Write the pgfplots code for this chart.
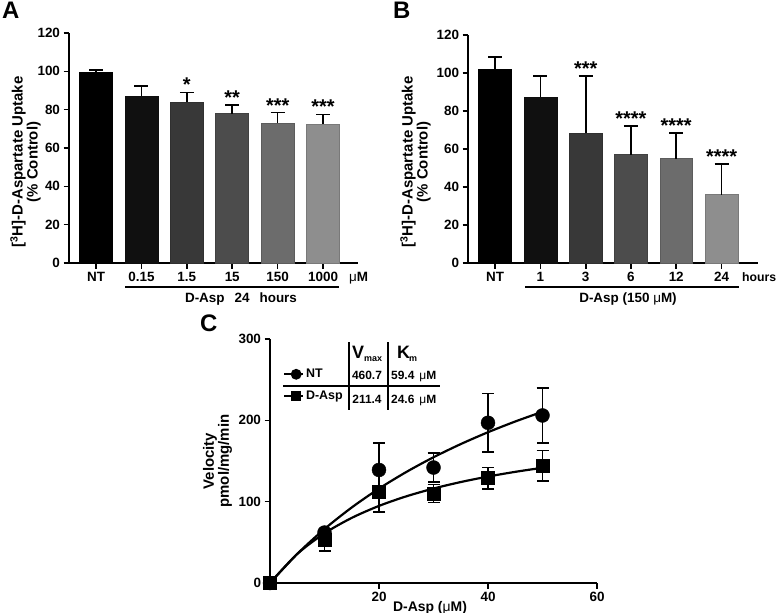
\documentclass[border=0pt]{standalone}
\usepackage{fontspec}
\setmainfont{Liberation Sans}
\usepackage{pgfplots}
\pgfplotsset{compat=1.18}

\definecolor{g0}{HTML}{000000}
\definecolor{g1}{HTML}{101010}
\definecolor{g2}{HTML}{383838}
\definecolor{g3}{HTML}{4C4C4C}
\definecolor{g4}{HTML}{6C6C6C}
\definecolor{g5}{HTML}{8E8E8E}

\newcommand{\tf}{\fontsize{13.5}{15}\selectfont\bfseries}
\newcommand{\lf}{\fontsize{15}{15}\selectfont\bfseries}
\newcommand{\starf}{\fontsize{20}{20}\selectfont\bfseries}

\pgfplotsset{
 panel/.style={
  scale only axis,
  anchor=south west,
  axis x line*=bottom, axis y line*=left,
  axis line style={line width=1.7bp},
  every tick/.style={line width=1.6bp, black},
  tick align=outside,
  major tick length=5.5bp,
  tick label style={font=\tf},
  /pgf/number format/assume math mode=true,
  clip=false,
 },
 barpanel/.style={
  panel, ymin=0, ymax=120, ytick={0,20,...,120},
  xtick={0,...,5},
  bar width=0.727, bar shift=0pt,
 },
 bb/.style={ybar, fill=#1, draw=#1!85!black, line width=0.5bp,
  error bars/.cd, y dir=plus, y explicit,
  error bar style={line width=1.7bp, black},
  error mark options={rotate=90, mark size=7bp, line width=1.7bp, black}},
}

\begin{document}
\begin{tikzpicture}
\path[use as bounding box] (0,0) rectangle (777bp,-613bp);

% ---------------- Panel A ----------------
\begin{axis}[barpanel, at={(69bp,-263bp)}, width=289bp, height=230bp,
  xmin=-0.595, xmax=5.77,
  xticklabels={NT,0.15,1.5,15,150,1000}]
\addplot[bb=g0] coordinates {(0,99.5) +- (0,1.2)};
\addplot[bb=g1] coordinates {(1,87) +- (0,5.5)};
\addplot[bb=g2] coordinates {(2,84) +- (0,5)};
\addplot[bb=g3] coordinates {(3,78) +- (0,4.5)};
\addplot[bb=g4] coordinates {(4,73) +- (0,5.5)};
\addplot[bb=g5] coordinates {(5,72.5) +- (0,5)};
\node[anchor=base, yshift=0.5bp, inner sep=0] at (axis cs:2,89) {\starf *};
\node[anchor=base, yshift=0.5bp, inner sep=0] at (axis cs:3,82.5) {\starf **};
\node[anchor=base, yshift=0.5bp, inner sep=0] at (axis cs:4,78.5) {\starf ***};
\node[anchor=base, yshift=0.5bp, inner sep=0] at (axis cs:5,77.5) {\starf ***};
\end{axis}

% ---------------- Panel B ----------------
\begin{axis}[barpanel, at={(468bp,-263bp)}, width=290bp, height=228bp,
  xmin=-0.6, xmax=5.806,
  xticklabels={NT,1,3,6,12,24}]
\addplot[bb=g0] coordinates {(0,102) +- (0,6.5)};
\addplot[bb=g1] coordinates {(1,87.5) +- (0,11)};
\addplot[bb=g2] coordinates {(2,68.5) +- (0,30)};
\addplot[bb=g3] coordinates {(3,57) +- (0,15)};
\addplot[bb=g4] coordinates {(4,55) +- (0,13.5)};
\addplot[bb=g5] coordinates {(5,36) +- (0,16)};
\node[anchor=base, yshift=0.5bp, inner sep=0] at (axis cs:2,98.5) {\starf ***};
\node[anchor=base, yshift=0.5bp, inner sep=0] at (axis cs:3,72) {\starf ****};
\node[anchor=base, yshift=0.5bp, inner sep=0] at (axis cs:4,68.5) {\starf ****};
\node[anchor=base, yshift=0.5bp, inner sep=0] at (axis cs:5,52) {\starf ****};
\end{axis}

% ---------------- Panel C ----------------
\begin{axis}[panel, at={(270bp,-583bp)}, width=327bp, height=244bp,
  xmin=0, xmax=60, ymin=0, ymax=300,
  xtick={20,40,60}, ytick={0,100,200,300},
  legend style={at={(0.04,0.885)}, anchor=north west, draw=none, fill=none,
    inner sep=0pt, font=\fontsize{12.5}{14}\selectfont\bfseries,
    row sep=8bp, cells={anchor=west}},
  legend image code/.code={%
    \draw[#1, mark=none] (0bp,0bp) -- (19bp,0bp);
    \draw[#1] plot coordinates {(12bp,0bp)};}]
% fitted Michaelis-Menten curves (Vmax 460.7, Km 59.4) and (Vmax 211.4, Km 24.6)
\addplot[line width=2.2bp, black, smooth, no marks, forget plot] coordinates {
 (0,0) (5,35.77) (10,66.38) (15,92.88) (20,116.05) (25,136.46) (30,154.60)
 (35,170.81) (40,185.39) (45,198.58) (50,210.56)};
\addplot[line width=2.2bp, black, smooth, no marks, forget plot] coordinates {
 (0,0) (5,35.71) (10,61.10) (15,80.08) (20,94.80) (25,106.55) (30,116.15)
 (35,124.14) (40,130.90) (45,136.68) (50,141.69)};
% NT data
\addplot[only marks, mark=*, mark size=7bp, black, forget plot,
  error bars/.cd, y dir=both, y explicit,
  error bar style={line width=1.7bp, black},
  error mark options={rotate=90, mark size=6bp, line width=1.7bp, black}]
 coordinates {(0,0) +- (0,0) (10,62) +- (0,5) (20,139) +- (0,33)
   (30,142) +- (0,18) (40,197) +- (0,36) (50,206) +- (0,34)};
% D-Asp data
\addplot[only marks, mark=square*, mark size=6.5bp, black, forget plot,
  error bars/.cd, y dir=both, y explicit,
  error bar style={line width=1.7bp, black},
  error mark options={rotate=90, mark size=6bp, line width=1.7bp, black}]
 coordinates {(0,0) +- (0,0) (10,53) +- (0,14) (20,112) +- (0,25)
   (30,110) +- (0,11) (40,129) +- (0,13) (50,144) +- (0,19)};
\addlegendimage{line width=1.8bp, black, mark=*, mark size=4.5bp}
\addlegendentry{NT}
\addlegendimage{line width=1.8bp, black, mark=square*, mark size=4bp}
\addlegendentry{D-Asp}
\end{axis}

% ---------------- Annotations ----------------
% panel letters
\node[anchor=north west, inner sep=0] at (2bp,-2bp) {\fontsize{24}{24}\selectfont\bfseries A};
\node[anchor=north west, inner sep=0] at (393bp,-2bp) {\fontsize{24}{24}\selectfont\bfseries B};
\node[anchor=north west, inner sep=0] at (200bp,-315bp) {\fontsize{24}{24}\selectfont\bfseries C};

% y labels
\node[rotate=90, align=center, font=\lf] at (25.5bp,-162bp) {[\textsuperscript{3}H]-D-Aspartate Uptake\\(\% Control)};
\node[rotate=90, align=center, font=\lf] at (415.5bp,-162bp) {[\textsuperscript{3}H]-D-Aspartate Uptake\\(\% Control)};
\node[rotate=90, align=center, font=\lf] at (217.5bp,-461bp) {Velocity\\pmol/mg/min};

% A below axis
\node[anchor=base west, inner sep=0] at (349bp,-281bp) {\tf{\mdseries μ}M};
\draw[line width=1.7bp] (125bp,-287bp) -- (339bp,-287bp);
\node[anchor=base, inner sep=0] at (241bp,-302bp) {\tf D-Asp\hspace{10bp}24\hspace{10bp}hours};

% B below axis
\node[anchor=base west, inner sep=0] at (742bp,-281bp) {\fontsize{12.3}{14}\selectfont\bfseries hours};
\draw[line width=1.7bp] (525bp,-287bp) -- (739bp,-287bp);
\node[anchor=base, inner sep=0] at (628bp,-302bp) {\tf D-Asp (150 {\mdseries μ}M)};

% C x label
\node[anchor=base, inner sep=0] at (430bp,-611bp) {\fontsize{14}{15}\selectfont\bfseries D-Asp ({\mdseries μ}M)};

% C table
\draw[line width=1.7bp] (349bp,-342bp) -- (349bp,-410bp);
\draw[line width=1.7bp] (388bp,-342bp) -- (388bp,-410bp);
\draw[line width=1.7bp] (283bp,-386bp) -- (440bp,-386bp);
\node[anchor=base west, inner sep=0] at (352bp,-358bp) {\fontsize{18}{18}\selectfont\bfseries V};
\node[anchor=base west, inner sep=0] at (364bp,-361bp) {\fontsize{9}{10}\selectfont\bfseries max};
\node[anchor=base west, inner sep=0] at (397bp,-358bp) {\fontsize{18}{18}\selectfont\bfseries K};
\node[anchor=base west, inner sep=0] at (409bp,-361bp) {\fontsize{9}{10}\selectfont\bfseries m};
\node[anchor=base, inner sep=0] at (367bp,-379.5bp) {\fontsize{12}{14}\selectfont\bfseries 460.7};
\node[anchor=base, inner sep=0] at (367bp,-403bp) {\fontsize{12}{14}\selectfont\bfseries 211.4};
\node[anchor=base west, inner sep=0] at (391bp,-379.5bp) {\fontsize{12}{14}\selectfont\bfseries 59.4\hspace{5bp}{\mdseries μ}M};
\node[anchor=base west, inner sep=0] at (391bp,-403bp) {\fontsize{12}{14}\selectfont\bfseries 24.6\hspace{5bp}{\mdseries μ}M};
\end{tikzpicture}
\end{document}
